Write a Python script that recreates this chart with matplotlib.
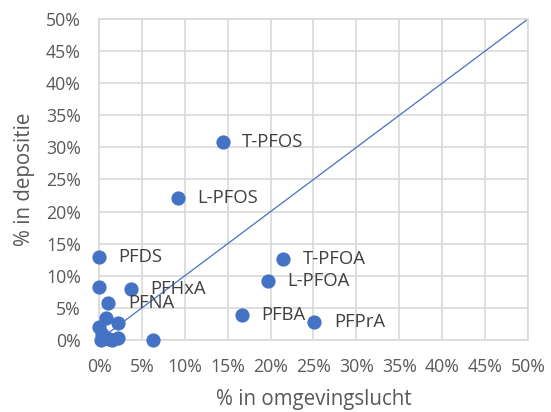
import matplotlib
matplotlib.use("Agg")
import matplotlib.pyplot as plt
from matplotlib.ticker import PercentFormatter

plt.rcParams['font.family'] = ['Open Sans', 'DejaVu Sans']

# share of each compound (%) in ambient air vs. in deposition
x_air = [14.4, 9.2, 0.0, 21.5, 19.7, 16.7, 25.1, 3.7, 1.1,
         0.0, 6.3, 0.8, 2.2, 0.0, 0.3, 2.2, 0.2, 1.2, 0.5, 1.5]
y_dep = [30.8, 22.1, 12.9, 12.6, 9.2, 3.9, 2.8, 7.9, 5.8,
         8.3, 0.0, 3.4, 2.6, 2.0, 1.0, 0.3, 0.0, 0.2, 0.5, 0.0]
names = ["T-PFOS", "L-PFOS", "PFDS", "T-PFOA", "L-PFOA", "PFBA", "PFPrA", "PFHxA", "PFNA",
         "", "", "", "", "", "", "", "", "", "", ""]
ticks = [0, 5, 10, 15, 20, 25, 30, 35, 40, 45, 50]

blue = "#4472C4"
grid = "#D9D9D9"
txt = "#595959"

fig = plt.figure(figsize=(5.51, 4.12), dpi=100)
ax = fig.add_axes([0.1797, 0.1748, 0.7785, 0.7791])

ax.plot([0, 50], [0, 50], color=blue, lw=0.9, zorder=2)
ax.scatter(x_air, y_dep, s=105, color=blue, zorder=3, linewidths=0, clip_on=False)
for xv, yv, n in zip(x_air, y_dep, names):
    if n:
        ax.annotate(n, (xv, yv), xytext=(14, 0), textcoords="offset points",
                    va="center", ha="left", fontsize=13.3, color="#404040", zorder=4)

ax.set_xlim(0, 50)
ax.set_ylim(0, 50)
ax.set_xticks(ticks)
ax.set_yticks(ticks)
ax.xaxis.set_major_formatter(PercentFormatter(decimals=0))
ax.yaxis.set_major_formatter(PercentFormatter(decimals=0))
ax.grid(True, color=grid, lw=1.2, zorder=0)
ax.set_axisbelow(True)
for s in ax.spines.values():
    s.set_color(grid)
    s.set_linewidth(1.2)
ax.tick_params(length=0, labelsize=12.8, colors=txt)
ax.tick_params(axis="y", pad=13)
ax.tick_params(axis="x", pad=13)
ax.set_xlabel("% in omgevingslucht", fontsize=14.8, color=txt, labelpad=9)
ax.set_ylabel("% in depositie", fontsize=14.8, color=txt, labelpad=8)

fig.savefig("out.png", dpi=100)
